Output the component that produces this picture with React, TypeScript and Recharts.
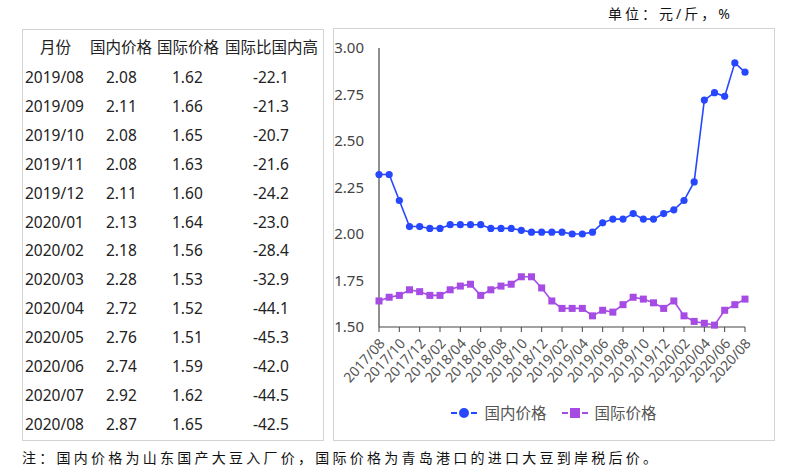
import React from 'react';
import { LineChart, Line, XAxis, YAxis, Legend } from 'recharts';

const months: string[] = [
  '2017/08','2017/09','2017/10','2017/11','2017/12',
  '2018/01','2018/02','2018/03','2018/04','2018/05','2018/06','2018/07','2018/08','2018/09','2018/10','2018/11','2018/12',
  '2019/01','2019/02','2019/03','2019/04','2019/05','2019/06','2019/07','2019/08','2019/09','2019/10','2019/11','2019/12',
  '2020/01','2020/02','2020/03','2020/04','2020/05','2020/06','2020/07','2020/08',
];
const domestic: number[] = [
  2.32, 2.32, 2.18, 2.04, 2.04,
  2.03, 2.03, 2.05, 2.05, 2.05, 2.05, 2.03, 2.03, 2.03, 2.02, 2.01, 2.01,
  2.01, 2.01, 2.00, 2.00, 2.01, 2.06, 2.08, 2.08, 2.11, 2.08, 2.08, 2.11,
  2.13, 2.18, 2.28, 2.72, 2.76, 2.74, 2.92, 2.87,
];
const international: number[] = [
  1.64, 1.66, 1.67, 1.70, 1.69,
  1.67, 1.67, 1.70, 1.72, 1.73, 1.67, 1.70, 1.72, 1.73, 1.77, 1.77, 1.71,
  1.64, 1.60, 1.60, 1.60, 1.56, 1.59, 1.58, 1.62, 1.66, 1.65, 1.63, 1.60,
  1.64, 1.56, 1.53, 1.52, 1.51, 1.59, 1.62, 1.65,
];
const yTicks: number[] = [1.5, 1.75, 2.0, 2.25, 2.5, 2.75, 3.0];

const tableHeader: string[] = ['月份', '国内价格', '国际价格', '国际比国内高'];
const tableMonths: string[] = ['2019/08','2019/09','2019/10','2019/11','2019/12','2020/01','2020/02','2020/03','2020/04','2020/05','2020/06','2020/07','2020/08'];
const tableDomestic: string[] = ['2.08','2.11','2.08','2.08','2.11','2.13','2.18','2.28','2.72','2.76','2.74','2.92','2.87'];
const tableIntl: string[] = ['1.62','1.66','1.65','1.63','1.60','1.64','1.56','1.53','1.52','1.51','1.59','1.62','1.65'];
const tableRatio: string[] = ['-22.1','-21.3','-20.7','-21.6','-24.2','-23.0','-28.4','-32.9','-44.1','-45.3','-42.0','-44.5','-42.5'];

const titleText = '单位：元/斤，%';
const noteText = '注：国内价格为山东国产大豆入厂价，国际价格为青岛港口的进口大豆到岸税后价。';

const data = months.map((m, i) => ({ month: m, d: domestic[i], f: international[i] }));

const BLUE = '#2747ff';
const PURPLE = '#a64be3';
const FONT = "'Noto Sans', 'Noto Sans CJK SC', sans-serif";

const XTick = (props: any) => {
  const { x, y, payload } = props;
  return (
    <g transform={`translate(${x},${y + 4})`}>
      <text x={0} y={0} dy={9} textAnchor="end" transform="rotate(-48)" fill="#555" fontSize={14} fontFamily={FONT}>
        {payload.value}
      </text>
    </g>
  );
};

const SquareDot = (props: any) => {
  const { cx, cy } = props;
  if (cx == null || cy == null) return null;
  return <rect x={cx - 3.5} y={cy - 3.5} width={7} height={7} fill={PURPLE} />;
};

const CircleDot = (props: any) => {
  const { cx, cy } = props;
  if (cx == null || cy == null) return null;
  return <circle cx={cx} cy={cy} r={3.6} fill={BLUE} />;
};

const LegendContent = () => {
  const items = [
    { label: '国内价格', color: BLUE, shape: 'circle' },
    { label: '国际价格', color: PURPLE, shape: 'square' },
  ];
  return (
    <div style={{ display: 'flex', justifyContent: 'center', fontFamily: FONT, fontSize: 15.5, color: '#555' }}>
      {items.map((it, idx) => (
        <div key={idx} style={{ display: 'flex', alignItems: 'center', marginRight: idx === 0 ? 14 : 0 }}>
          <svg width={28} height={14} style={{ marginRight: 6 }}>
            <line x1={1} y1={7} x2={27} y2={7} stroke={it.color} strokeWidth={2} strokeDasharray="6 4" />
            {it.shape === 'circle' ? (
              <circle cx={14} cy={7} r={5} fill={it.color} />
            ) : (
              <rect x={9} y={2} width={10} height={10} fill={it.color} />
            )}
          </svg>
          <span>{it.label}</span>
        </div>
      ))}
    </div>
  );
};

const rowY = (i: number) => 77 + i * 28.9;

export default function App() {
  const cellStyle = (left: number, top: number): React.CSSProperties => ({
    position: 'absolute', left, top: top - 11, height: 22, lineHeight: '22px',
    fontFamily: FONT, fontSize: 15.5, color: '#222', whiteSpace: 'nowrap',
  });
  return (
    <div style={{ position: 'absolute', left: 0, top: 0, width: 788, height: 474, background: '#fff', overflow: 'hidden' }}>
      <div style={{ position: 'absolute', left: 608, top: 3, fontFamily: FONT, fontSize: 14, letterSpacing: 3, color: '#111', lineHeight: '22px', whiteSpace: 'nowrap' }}>
        {titleText}
      </div>

      <div style={{ position: 'absolute', left: 22, top: 29, width: 300, height: 410, border: '1px solid #d3d3d3' }} />
      <div style={cellStyle(40, 47)}>{tableHeader[0]}</div>
      <div style={cellStyle(90, 47)}>{tableHeader[1]}</div>
      <div style={cellStyle(157, 47)}>{tableHeader[2]}</div>
      <div style={cellStyle(225, 47)}>{tableHeader[3]}</div>
      {tableMonths.map((m, i) => (
        <React.Fragment key={m}>
          <div style={cellStyle(25, rowY(i))}>{m}</div>
          <div style={cellStyle(106, rowY(i))}>{tableDomestic[i]}</div>
          <div style={cellStyle(172, rowY(i))}>{tableIntl[i]}</div>
          <div style={cellStyle(253, rowY(i))}>{tableRatio[i]}</div>
        </React.Fragment>
      ))}

      <div style={{ position: 'absolute', left: 333, top: 28, width: 440, height: 411, border: '1px solid #d3d3d3' }} />
      <div style={{ position: 'absolute', left: 333, top: 28 }}>
        <LineChart width={441} height={412} data={data} margin={{ top: 20, right: 29, left: 6, bottom: 0 }}>
          <XAxis
            dataKey="month"
            interval={1}
            height={113}
            tick={<XTick />}
            tickSize={5}
            axisLine={{ stroke: '#444', strokeWidth: 1.2 }}
            tickLine={{ stroke: '#444' }}
            padding={{ left: 0, right: 0 }}
          />
          <YAxis
            type="number"
            domain={[1.5, 3]}
            ticks={yTicks}
            interval={0}
            width={40}
            tickLine={false}
            tickMargin={9}
            tickFormatter={(v: number) => v.toFixed(2)}
            axisLine={{ stroke: '#444', strokeWidth: 1.2 }}
            tick={{ fill: '#444', fontSize: 15, fontFamily: FONT }}
          />
          <Legend
            layout="horizontal"
            verticalAlign="middle"
            align="center"
            wrapperStyle={{ top: 373, left: 0, width: 441 }}
            content={<LegendContent />}
          />
          <Line type="linear" dataKey="d" name="国内价格" stroke={BLUE} strokeWidth={1.6} dot={<CircleDot />} activeDot={false} isAnimationActive={false} />
          <Line type="linear" dataKey="f" name="国际价格" stroke={PURPLE} strokeWidth={1.6} dot={<SquareDot />} activeDot={false} isAnimationActive={false} />
        </LineChart>
      </div>

      <div style={{ position: 'absolute', left: 22, top: 447, fontFamily: FONT, fontSize: 14, letterSpacing: 3.25, color: '#111', lineHeight: '22px', whiteSpace: 'nowrap' }}>
        {noteText}
      </div>
    </div>
  );
}
